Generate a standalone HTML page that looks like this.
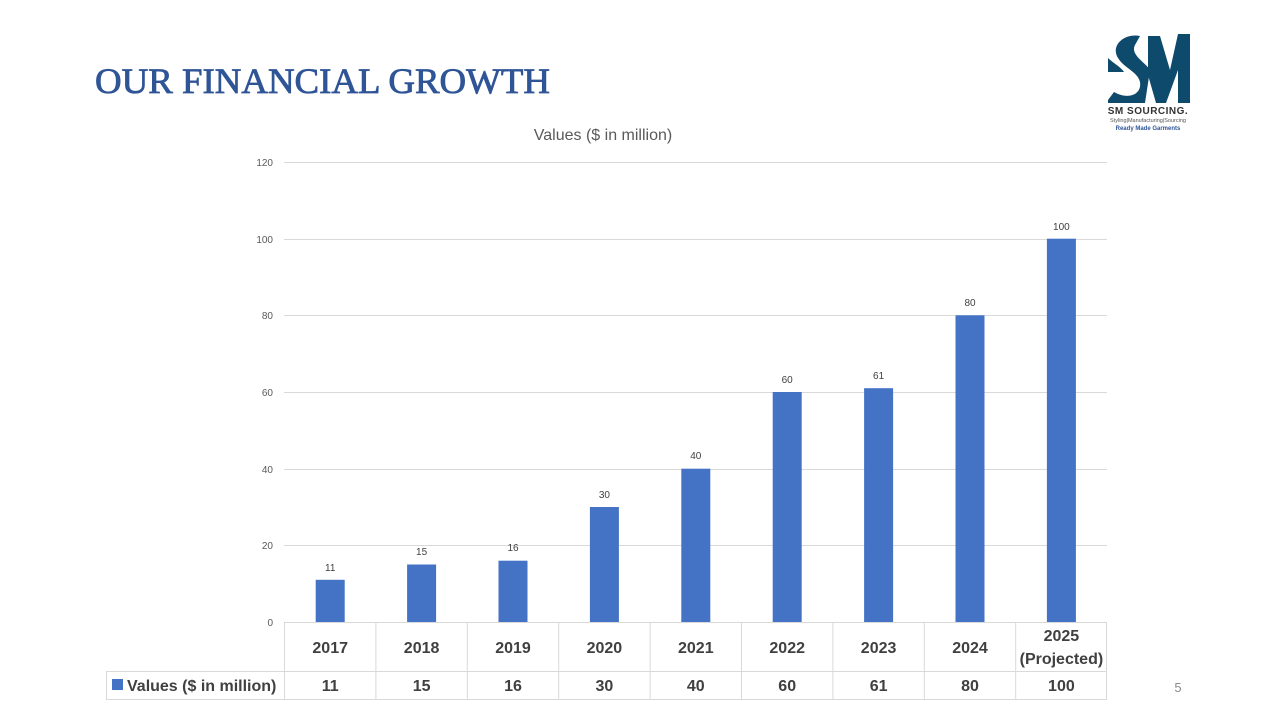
<!DOCTYPE html>
<html><head><meta charset="utf-8"><style>
html,body{margin:0;padding:0;background:#fff;}
svg{display:block;}
</style></head><body>
<svg width="1280" height="720" viewBox="0 0 1280 720" xmlns="http://www.w3.org/2000/svg" font-family="Liberation Sans, sans-serif">
<rect width="1280" height="720" fill="#fff"/>
<text x="95" y="93" font-family="Liberation Serif, serif" font-size="36" fill="#2F5597" stroke="#2F5597" stroke-width="0.8" textLength="455" lengthAdjust="spacingAndGlyphs">OUR FINANCIAL GROWTH</text>
<!-- logo -->
<g fill="#0E4A6B">
<path d="M1148 36 L1160 36 L1170 70 L1178 34 L1190 34 L1190 103 L1178 103 L1178 70 L1166 103 L1156 103 L1148 75 Z"/>
<path d="M1140 36 C1125 33 1110 45 1118 58 C1124 68 1138 72 1140 82 C1142 95 1128 100 1114 92 L1108 100 L1108 103 L1145 103 L1150 70 C1145 62 1130 55 1135 45 Z"/>
<path d="M1108 58 C1112 62 1122 68 1124 72 L1108 72 Z"/>
</g>
<text x="1148" y="114" font-size="10" font-weight="bold" fill="#333" text-anchor="middle" letter-spacing="0.5">SM SOURCING.</text>
<text x="1148" y="122" font-size="5.5" fill="#555" text-anchor="middle">Styling|Manufacturing|Sourcing</text>
<text x="1148" y="130" font-size="6" font-weight="bold" fill="#2F5597" text-anchor="middle">Ready Made Garments</text>
<!-- chart title -->
<text x="603" y="140" font-size="16" fill="#595959" text-anchor="middle">Values ($ in million)</text>
<!-- grid -->
<g stroke="#D9D9D9" stroke-width="1">
<line x1="284" y1="162.5" x2="1107" y2="162.5"/>
<line x1="284" y1="239.5" x2="1107" y2="239.5"/>
<line x1="284" y1="315.5" x2="1107" y2="315.5"/>
<line x1="284" y1="392.5" x2="1107" y2="392.5"/>
<line x1="284" y1="469.5" x2="1107" y2="469.5"/>
<line x1="284" y1="545.5" x2="1107" y2="545.5"/>
</g>
<g font-size="10" fill="#595959" text-anchor="end">
<text x="273" y="166">120</text><text x="273" y="243">100</text><text x="273" y="319">80</text>
<text x="273" y="396">60</text><text x="273" y="473">40</text><text x="273" y="549">20</text><text x="273" y="626">0</text>
</g>
<!-- bars -->
<g fill="#4472C4">
<rect x="315.7" y="579.8" width="29" height="42.2"/>
<rect x="407.1" y="564.5" width="29" height="57.5"/>
<rect x="498.5" y="560.7" width="29" height="61.3"/>
<rect x="589.9" y="507" width="29" height="115"/>
<rect x="681.3" y="468.7" width="29" height="153.3"/>
<rect x="772.7" y="392" width="29" height="230"/>
<rect x="864.1" y="388.2" width="29" height="233.8"/>
<rect x="955.5" y="315.3" width="29" height="306.7"/>
<rect x="1046.9" y="238.7" width="29" height="383.3"/>
</g>
<g font-size="10" fill="#404040" text-anchor="middle">
<text x="330.2" y="571">11</text><text x="421.6" y="555">15</text><text x="513" y="551">16</text>
<text x="604.4" y="498">30</text><text x="695.8" y="459">40</text><text x="787.2" y="383">60</text>
<text x="878.6" y="379">61</text><text x="970" y="306">80</text><text x="1061.4" y="230">100</text>
</g>
<!-- table -->
<g stroke="#D9D9D9" stroke-width="1" fill="none">
<line x1="284" y1="622.5" x2="1107" y2="622.5"/>
<line x1="106" y1="671.5" x2="1107" y2="671.5"/>
<line x1="106" y1="699.5" x2="1107" y2="699.5"/>
<line x1="106.5" y1="671" x2="106.5" y2="700"/>
<line x1="284.5" y1="622" x2="284.5" y2="700"/>
<line x1="375.9" y1="622" x2="375.9" y2="700"/>
<line x1="467.3" y1="622" x2="467.3" y2="700"/>
<line x1="558.7" y1="622" x2="558.7" y2="700"/>
<line x1="650.1" y1="622" x2="650.1" y2="700"/>
<line x1="741.5" y1="622" x2="741.5" y2="700"/>
<line x1="832.9" y1="622" x2="832.9" y2="700"/>
<line x1="924.3" y1="622" x2="924.3" y2="700"/>
<line x1="1015.7" y1="622" x2="1015.7" y2="700"/>
<line x1="1106.5" y1="622" x2="1106.5" y2="700"/>
</g>
<g font-size="16" font-weight="bold" fill="#404040" text-anchor="middle">
<text x="330.2" y="653">2017</text><text x="421.6" y="653">2018</text><text x="513" y="653">2019</text>
<text x="604.4" y="653">2020</text><text x="695.8" y="653">2021</text><text x="787.2" y="653">2022</text>
<text x="878.6" y="653">2023</text><text x="970" y="653">2024</text>
<text x="1061.4" y="641">2025</text><text x="1061.4" y="664">(Projected)</text>
<text x="330.2" y="691">11</text><text x="421.6" y="691">15</text><text x="513" y="691">16</text>
<text x="604.4" y="691">30</text><text x="695.8" y="691">40</text><text x="787.2" y="691">60</text>
<text x="878.6" y="691">61</text><text x="970" y="691">80</text><text x="1061.4" y="691">100</text>
</g>
<rect x="112" y="679" width="11" height="11" fill="#4472C4"/>
<text x="127" y="691" font-size="16" font-weight="bold" fill="#404040">Values ($ in million)</text>
<text x="1178" y="692" font-size="13" fill="#8C8C8C" text-anchor="middle">5</text>
</svg>
</body></html>
